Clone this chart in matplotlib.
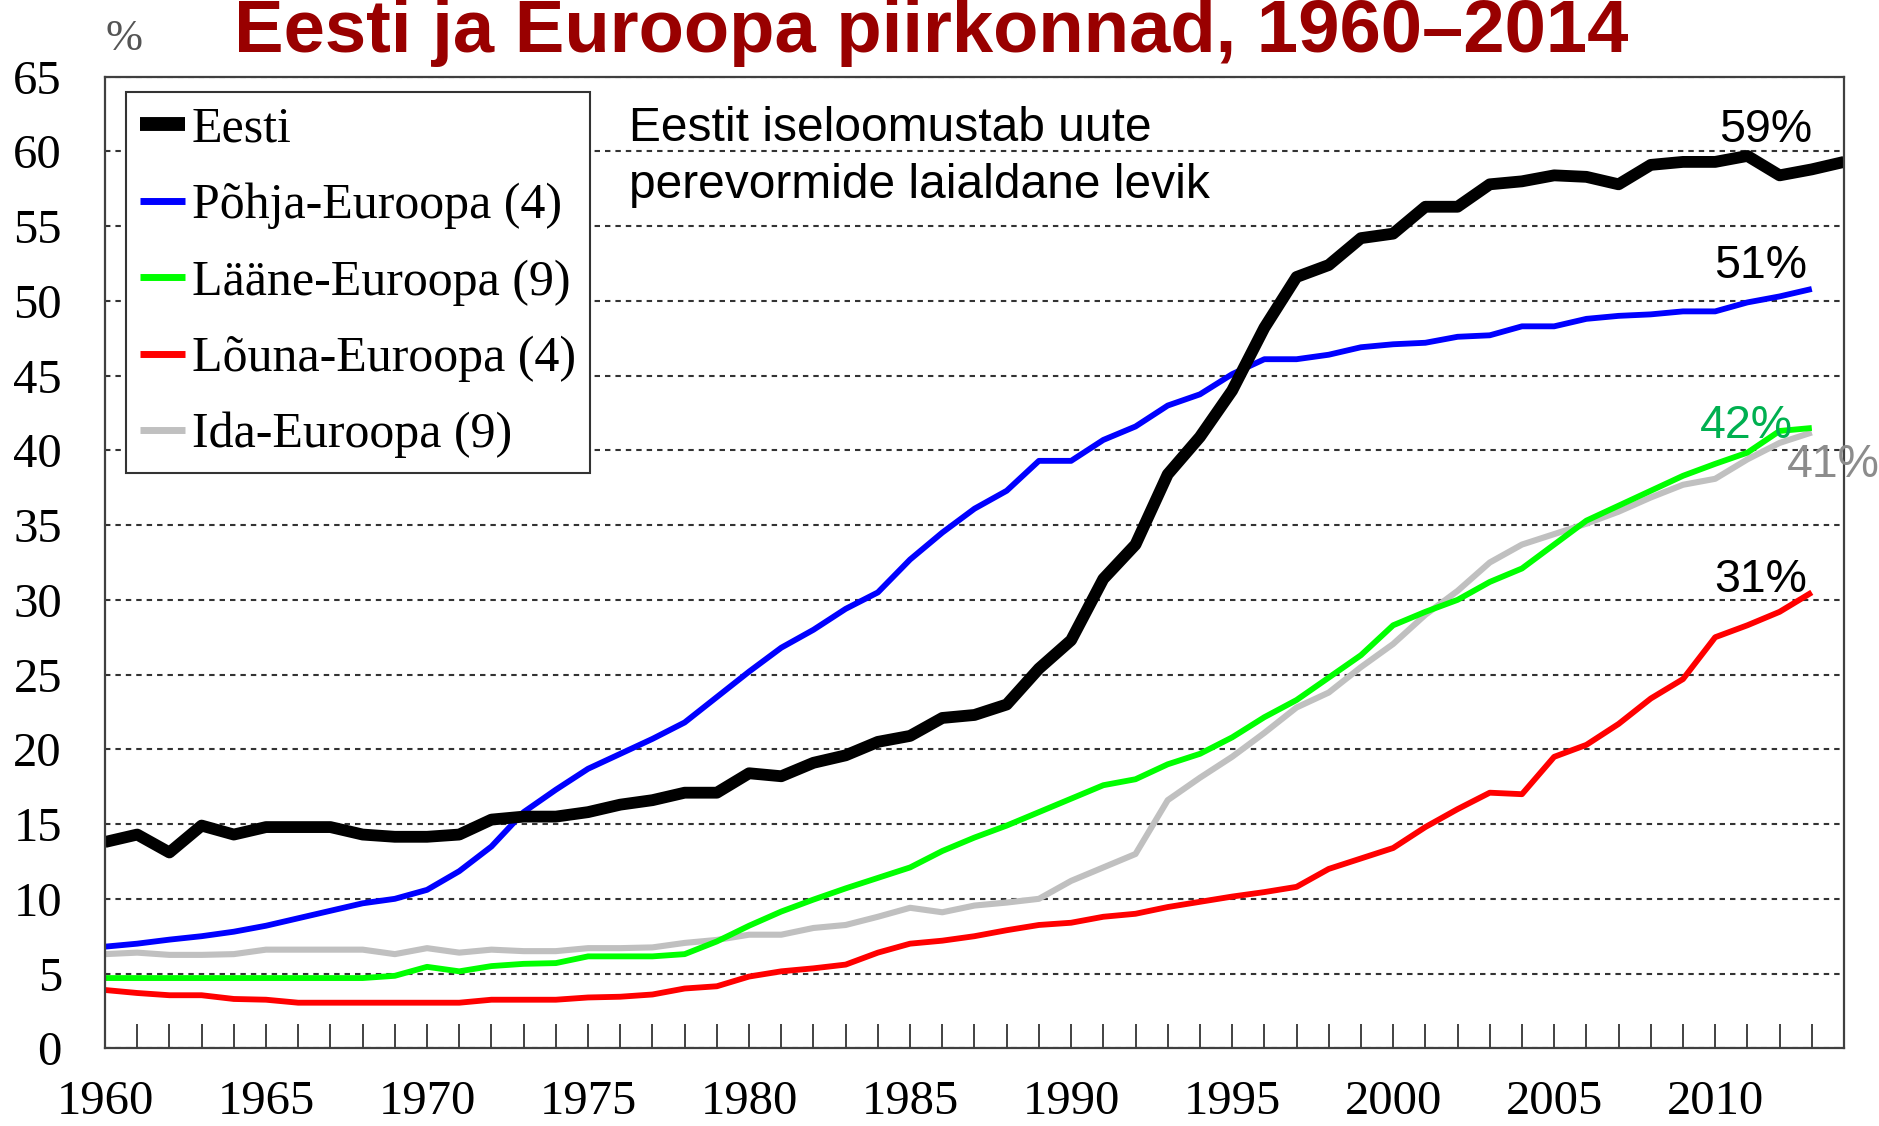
import matplotlib
matplotlib.use("Agg")
import matplotlib.pyplot as plt

# ---------------- data ----------------
years_eesti = list(range(1960, 2015))
years = list(range(1960, 2014))

eesti = [13.8, 14.3, 13.1, 14.9, 14.3, 14.8, 14.8, 14.8, 14.3, 14.15,
         14.15, 14.3, 15.3, 15.5, 15.5, 15.8, 16.3, 16.6, 17.1, 17.1,
         18.4, 18.2, 19.1, 19.6, 20.5, 20.9, 22.1, 22.3, 23.0, 25.4,
         27.3, 31.4, 33.7, 38.4, 40.9, 44.0, 48.2, 51.6, 52.4, 54.2,
         54.5, 56.3, 56.3, 57.8, 58.0, 58.4, 58.3, 57.8, 59.1, 59.3,
         59.3, 59.7, 58.4, 58.8, 59.3]

pohja = [6.8, 7.0, 7.27, 7.5, 7.8, 8.2, 8.7, 9.2, 9.7, 10.0,
         10.6, 11.85, 13.5, 15.8, 17.3, 18.7, 19.7, 20.7, 21.8, 23.5,
         25.2, 26.8, 28.0, 29.4, 30.5, 32.7, 34.5, 36.1, 37.3, 39.3,
         39.3, 40.7, 41.6, 43.0, 43.75, 45.1, 46.1, 46.1, 46.4, 46.9,
         47.1, 47.2, 47.6, 47.7, 48.3, 48.3, 48.8, 49.0, 49.1, 49.3,
         49.3, 49.9, 50.3, 50.8]

laane = [4.7, 4.7, 4.7, 4.7, 4.7, 4.7, 4.7, 4.7, 4.7, 4.85,
         5.45, 5.15, 5.5, 5.65, 5.7, 6.15, 6.15, 6.15, 6.3, 7.15,
         8.2, 9.15, 9.95, 10.7, 11.4, 12.1, 13.2, 14.1, 14.9, 15.8,
         16.7, 17.6, 18.0, 19.0, 19.7, 20.8, 22.15, 23.3, 24.8, 26.3,
         28.3, 29.2, 30.0, 31.2, 32.1, 33.7, 35.3, 36.3, 37.3, 38.3,
         39.1, 39.85, 41.3, 41.5]

louna = [3.9, 3.7, 3.55, 3.55, 3.3, 3.25, 3.05, 3.05, 3.05, 3.05,
         3.05, 3.05, 3.25, 3.25, 3.25, 3.4, 3.45, 3.6, 4.0, 4.15,
         4.8, 5.15, 5.35, 5.6, 6.4, 7.0, 7.2, 7.5, 7.9, 8.25,
         8.4, 8.8, 9.0, 9.45, 9.8, 10.15, 10.45, 10.8, 12.0, 12.7,
         13.4, 14.8, 16.0, 17.1, 17.0, 19.5, 20.3, 21.7, 23.4, 24.7,
         27.5, 28.3, 29.2, 30.5]

ida = [6.3, 6.4, 6.25, 6.25, 6.3, 6.6, 6.6, 6.6, 6.6, 6.3,
       6.7, 6.4, 6.6, 6.5, 6.5, 6.7, 6.7, 6.75, 7.05, 7.25,
       7.6, 7.6, 8.05, 8.25, 8.8, 9.4, 9.1, 9.55, 9.75, 10.0,
       11.2, 12.1, 13.0, 16.6, 18.1, 19.5, 21.1, 22.8, 23.8, 25.5,
       27.05, 29.0, 30.6, 32.5, 33.7, 34.4, 35.1, 35.9, 36.85, 37.7,
       38.1, 39.4, 40.5, 41.2]

labels = ["Eesti", "Põhja-Euroopa (4)", "Lääne-Euroopa (9)",
          "Lõuna-Euroopa (4)", "Ida-Euroopa (9)"]
xtick_years = list(range(1960, 2011, 5))
ytick_vals = list(range(0, 66, 5))

title = "Eesti ja Euroopa piirkonnad, 1960–2014"
note1 = "Eestit iseloomustab uute"
note2 = "perevormide laialdane levik"

SERIF = "Liberation Serif"
SANS = "Liberation Sans"

# ---------------- figure ----------------
W, H = 1879, 1126
fig = plt.figure(figsize=(W / 100, H / 100), dpi=100)
fig.patch.set_facecolor("white")

ax_left, ax_right, ax_top, ax_bottom = 105, 1844, 76.7, 1048.3
ax = fig.add_axes([ax_left / W, 1 - ax_bottom / H,
                   (ax_right - ax_left) / W, (ax_bottom - ax_top) / H])

l_ida, = ax.plot(years, ida, color="#c0c0c0", lw=4.4, zorder=3,
                 solid_joinstyle="round", solid_capstyle="butt")
l_louna, = ax.plot(years, louna, color="#ff0000", lw=4.2, zorder=4,
                   solid_joinstyle="round", solid_capstyle="butt")
l_laane, = ax.plot(years, laane, color="#00ff00", lw=4.2, zorder=5,
                   solid_joinstyle="round", solid_capstyle="butt")
l_pohja, = ax.plot(years, pohja, color="#0000ff", lw=4.2, zorder=6,
                   solid_joinstyle="round", solid_capstyle="butt")
l_eesti, = ax.plot(years_eesti, eesti, color="#000000", lw=8.5, zorder=7,
                   solid_joinstyle="round", solid_capstyle="butt")

ax.set_xlim(1960, 2014)
ax.set_ylim(0, 65)

ax.set_xticks(xtick_years)
ax.set_xticks(list(range(1961, 2014)), minor=True)
ax.set_xticklabels([str(y) for y in xtick_years], fontfamily=SERIF, fontsize=35)
ax.set_yticks(ytick_vals)
ax.set_yticklabels([str(v) for v in ytick_vals], fontfamily=SERIF, fontsize=35)

ax.tick_params(axis="x", which="both", direction="in", length=17, width=1.2,
               color="#222222", top=False, pad=23)
ax.tick_params(axis="y", which="both", length=0, pad=31, left=True)

ax.grid(axis="y", linestyle=(0, (2.6, 2.4)), linewidth=1.5, color="#333333", zorder=1)
ax.grid(axis="x", visible=False)
ax.set_axisbelow(True)

for sp in ax.spines.values():
    sp.set_color("#404040")
    sp.set_linewidth(1.6)
    sp.set_zorder(8)

leg = ax.legend([l_eesti, l_pohja, l_laane, l_louna, l_ida], labels,
                loc="upper left", bbox_to_anchor=(126 / W, 1 - 92 / H),
                bbox_transform=fig.transFigure, borderaxespad=0,
                prop={"family": SERIF, "size": 36}, handlelength=0.9,
                handletextpad=0.13, borderpad=0.28, labelspacing=0.6,
                fancybox=False, framealpha=1, edgecolor="#333333")
leg.get_frame().set_linewidth(1.5)
leg.set_zorder(10)
for ln in leg.get_lines():
    ln.set_linewidth(5)
leg.get_lines()[0].set_linewidth(10)

# title and side texts
fig.text(234 / W, 1 - 52.3 / H, title, ha="left", va="baseline",
         fontsize=53.5, fontweight="bold", color="#990000", family=SANS)
fig.text(124 / W, 1 - 50 / H, "%", ha="center", va="baseline",
         family=SERIF, fontsize=32, color="#555555")
fig.text(629 / W, 1 - 141 / H, note1, ha="left", va="baseline",
         family=SANS, fontsize=34.5, color="black")
fig.text(629 / W, 1 - 198 / H, note2, ha="left", va="baseline",
         family=SANS, fontsize=34.5, color="black")

# end labels
lab_kw = dict(ha="right", va="baseline", family=SANS, fontsize=33.5, zorder=12, clip_on=False)
ax.text(2013.0, 60.6, "59%", color="black", **lab_kw)
ax.text(2012.85, 51.55, "51%", color="black", **lab_kw)
ax.text(2012.4, 40.8, "42%", color="#00b050", **lab_kw)
ax.text(2015.1, 38.2, "41%", color="#8c8c8c", **lab_kw)
ax.text(2012.85, 30.55, "31%", color="black", **lab_kw)

fig.savefig("out.png", dpi=100, facecolor="white")
